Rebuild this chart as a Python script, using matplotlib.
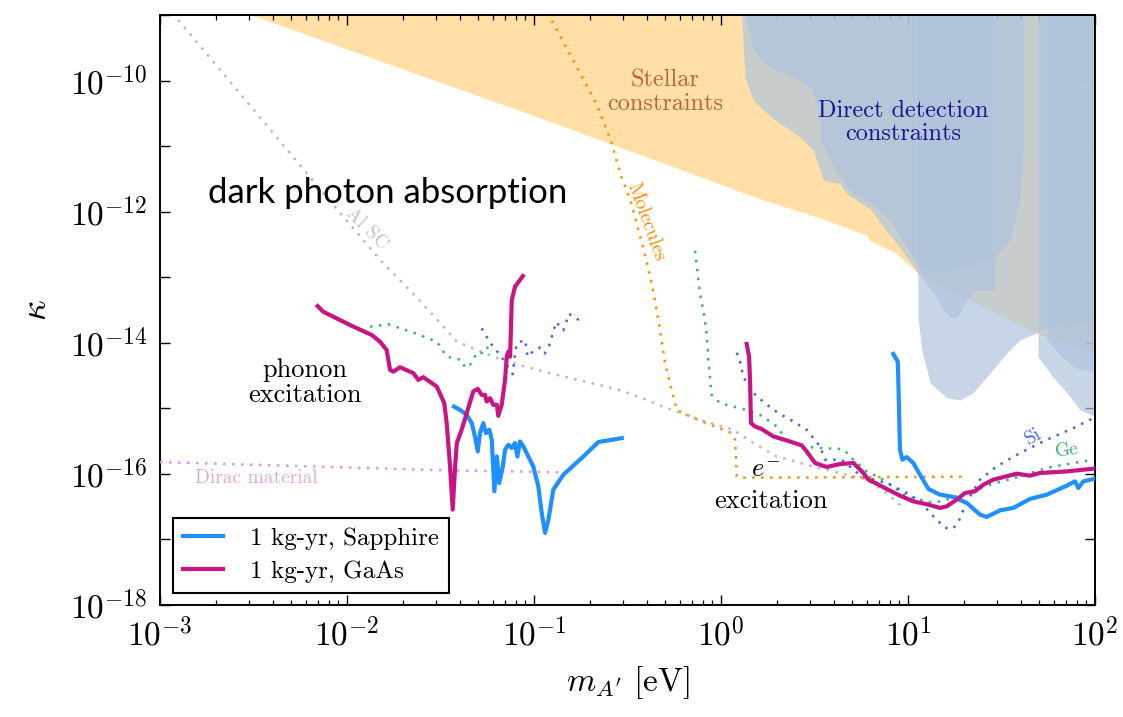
import numpy as np
import matplotlib
matplotlib.use("Agg")
import matplotlib.pyplot as plt
from matplotlib.ticker import NullLocator, FixedLocator

plt.rcParams["mathtext.fontset"] = "cm"
plt.rcParams["axes.formatter.use_mathtext"] = True

# ---------------- reach curves: log10(m_A' / eV) and log10(kappa) ----------------
sapphire_phonon_logm = np.array([-1.428, -1.396, -1.360, -1.333, -1.316, -1.301, -1.289, -1.271,
                                 -1.257, -1.239, -1.226, -1.212, -1.199, -1.186, -1.167, -1.155,
                                 -1.137, -1.119, -1.102, -1.089, -1.075, -1.057, -1.004, -0.977,
                                 -0.959, -0.941, -0.923, -0.897, -0.843, -0.736, -0.656, -0.531])
sapphire_phonon_logk = np.array([-14.973, -15.023, -15.099, -15.225, -15.429, -15.658, -15.378, -15.225,
                                 -15.378, -15.327, -15.479, -16.266, -15.734, -16.139, -15.886, -15.632,
                                 -15.556, -15.606, -15.530, -15.734, -15.505, -15.581, -15.886, -16.190,
                                 -16.595, -16.900, -16.697, -16.240, -16.012, -15.734, -15.514, -15.454])

sapphire_electron_logm = np.array([0.921, 0.945, 0.948, 0.957, 0.970, 0.993, 1.028, 1.064, 1.109, 1.171,
                                   1.242, 1.314, 1.385, 1.421, 1.492, 1.563, 1.652, 1.742, 1.849, 1.893,
                                   1.911, 1.937, 1.991])
sapphire_electron_logk = np.array([-14.170, -14.288, -14.566, -15.632, -15.784, -15.743, -15.834, -16.012,
                                   -16.230, -16.317, -16.352, -16.443, -16.621, -16.656, -16.556, -16.519,
                                   -16.382, -16.317, -16.180, -16.114, -16.215, -16.114, -16.078])

gaas_phonon_logm = np.array([-2.157, -2.127, -1.984, -1.868, -1.824, -1.788, -1.770, -1.752, -1.717,
                             -1.645, -1.619, -1.592, -1.520, -1.480, -1.467, -1.449, -1.435, -1.422,
                             -1.413, -1.387, -1.360, -1.325, -1.301, -1.280, -1.262, -1.253, -1.235,
                             -1.218, -1.199, -1.191, -1.173, -1.155, -1.146, -1.137, -1.128, -1.119,
                             -1.102, -1.060])
gaas_phonon_logk = np.array([-13.440, -13.527, -13.729, -13.881, -13.983, -14.110, -14.414, -14.440,
                             -14.373, -14.464, -14.566, -14.525, -14.668, -14.921, -15.225, -15.886,
                             -16.545, -15.886, -15.530, -15.327, -15.073, -14.744, -14.703, -14.795,
                             -14.795, -14.896, -14.845, -14.947, -14.947, -15.114, -14.947, -14.566,
                             -14.212, -14.135, -14.212, -13.349, -13.146, -12.983])

gaas_electron_logm = np.array([0.137, 0.150, 0.155, 0.160, 0.182, 0.218, 0.280, 0.351, 0.432, 0.458,
                               0.503, 0.565, 0.636, 0.708, 0.761, 0.788, 0.814, 0.886, 0.957, 1.028,
                               1.109, 1.171, 1.207, 1.260, 1.305, 1.358, 1.403, 1.456, 1.581, 1.652,
                               1.706, 1.849, 1.991])
gaas_electron_logk = np.array([-14.018, -14.212, -14.566, -15.225, -15.277, -15.317, -15.429, -15.490,
                               -15.566, -15.658, -15.834, -15.895, -15.849, -15.834, -15.986, -16.088,
                               -16.123, -16.230, -16.332, -16.419, -16.469, -16.519, -16.495, -16.393,
                               -16.291, -16.266, -16.164, -16.088, -15.997, -16.027, -15.986, -15.962,
                               -15.921])

# ---------------- other projections (dotted) ----------------
al_sc_logm = np.array([-2.902, -2.064, -1.806, -1.717, -1.556, -1.413, -1.306, -1.182, -1.048, -0.914,
                       -0.781, -0.558, -0.433, -0.290, -0.112, 0.066, 0.173, 0.298, 0.458, 0.601,
                       0.779, 0.886, 0.975])
al_sc_logk = np.array([-9.076, -11.928, -12.790, -13.044, -13.527, -13.983, -14.110, -14.251, -14.364,
                       -14.464, -14.556, -14.708, -14.830, -14.997, -15.175, -15.327, -15.530, -15.734,
                       -15.860, -15.962, -16.088, -16.291, -16.519])

dirac_logm = np.array([-3.0, -1.449, -0.825])
dirac_logk = np.array([-15.82, -15.947, -15.977])

molecules_logm = np.array([-0.905, -0.666, -0.590, -0.533, -0.484, -0.437, -0.399, -0.360, -0.326,
                           -0.299, -0.264, -0.237, -0.183, -0.112, -0.032, 0.057, 0.075, 0.080,
                           0.084, 0.102, 0.599, 1.296])
molecules_logk = np.array([-9.087, -10.355, -10.913, -11.472, -11.826, -12.333, -12.740, -13.247,
                           -13.805, -14.312, -14.718, -15.023, -15.099, -15.190, -15.277, -15.378,
                           -15.479, -15.734, -16.038, -16.058, -16.053, -16.043])

ge_phonon_logm = np.array([-1.877, -1.779, -1.645, -1.520, -1.467, -1.387, -1.369, -1.342, -1.303,
                           -1.266, -1.235])
ge_phonon_logk = np.array([-13.755, -13.718, -13.846, -13.983, -14.212, -14.262, -14.379, -14.338,
                           -14.145, -14.161, -13.998])

ge_electron_logm = np.array([-0.139, -0.112, -0.095, -0.077, -0.068, -0.050, -0.005, 0.119, 0.209,
                             0.298, 0.351, 0.440, 0.529, 0.654, 0.708, 0.779, 0.868, 0.993, 1.135,
                             1.207, 1.314, 1.439, 1.599, 1.742, 1.884, 1.991])
ge_electron_logk = np.array([-12.598, -13.262, -13.501, -13.855, -14.262, -14.795, -14.921, -15.012,
                             -15.099, -15.277, -15.479, -15.581, -15.606, -15.621, -15.784, -15.962,
                             -16.088, -16.342, -16.443, -16.393, -16.291, -16.164, -16.038, -15.910,
                             -15.834, -15.784])

si_phonon_logm = np.array([-1.280, -1.234, -1.176, -1.114, -1.100, -1.089, -1.048, -1.034, -1.004,
                           -0.968, -0.943, -0.920, -0.895, -0.882, -0.843, -0.813, -0.772, -0.740])
si_phonon_logk = np.array([-13.779, -14.003, -14.205, -14.479, -14.120, -14.003, -13.957, -14.212,
                           -14.125, -14.075, -14.166, -14.049, -13.816, -13.683, -13.810, -13.557,
                           -13.638, -13.658])

si_electron_logm = np.array([0.084, 0.102, 0.119, 0.164, 0.235, 0.306, 0.378, 0.458, 0.494, 0.529,
                             0.556, 0.645, 0.708, 0.752, 0.886, 0.993, 1.064, 1.135, 1.198, 1.239,
                             1.269, 1.296, 1.332, 1.385, 1.474, 1.599, 1.742, 1.884, 1.991])
si_electron_logk = np.array([-14.151, -14.288, -14.516, -14.744, -14.921, -15.073, -15.186, -15.327,
                             -15.454, -15.581, -15.784, -15.784, -15.936, -16.038, -16.139, -16.291,
                             -16.419, -16.647, -16.824, -16.839, -16.738, -16.545, -16.342, -16.088,
                             -15.886, -15.682, -15.479, -15.301, -15.149])

# ---------------- excluded regions (lower edges; filled up to the top) ----------------
stellar_logm = np.array([-2.510, -0.914, 0.230, 0.519, 0.781, 0.791, 0.936, 1.053, 1.332, 1.684, 2.0])
stellar_logk = np.array([-9.0, -10.624, -11.826, -12.085, -12.359, -12.435, -12.633, -12.938,
                         -13.349, -13.851, -14.140])

dd_a_logm = np.array([0.111, 0.128, 0.173, 0.280, 0.422, 0.494, 0.547, 0.636, 0.672, 0.806, 0.868,
                      0.940, 1.055, 1.144, 1.198, 1.235, 1.267, 1.321, 1.358, 1.465])
dd_a_logk = np.array([-9.01, -9.95, -10.304, -10.583, -10.863, -11.065, -11.522, -11.572, -11.725,
                      -11.979, -12.233, -12.486, -12.942, -13.272, -13.531, -13.623, -13.592, -13.318,
                      -13.196, -13.196])

dd_b_logm = np.array([0.128, 0.173, 0.262, 0.369, 0.422, 0.485, 0.520, 0.538, 0.583, 0.636, 0.708,
                      0.797, 0.904, 0.993, 1.055, 1.171, 1.332, 1.465, 1.545, 1.599, 1.615])
dd_b_logk = np.array([-9.0, -9.543, -9.798, -9.924, -10.0, -10.126, -10.457, -10.913, -11.218,
                      -11.472, -11.725, -11.852, -12.131, -12.537, -12.842, -12.892, -12.816,
                      -12.694, -12.435, -11.826, -11.065])

dd_c_logm = np.array([1.053, 1.073, 1.118, 1.207, 1.278, 1.348, 1.439, 1.528, 1.599, 1.688, 1.706, 2.0])
dd_c_logk = np.array([-13.603, -14.110, -14.612, -14.840, -14.871, -14.764, -14.460, -14.155,
                      -13.957, -13.851, -13.805, -13.653])

dd_d_logm = np.array([1.695, 1.775, 1.850, 1.920, 2.0])
dd_d_logk = np.array([-14.216, -14.521, -14.764, -15.023, -15.129])

dd_e_logm = np.array([1.743, 1.813, 1.893, 2.0])
dd_e_logk = np.array([-13.957, -14.186, -14.384, -14.444])

xtick_exponents = [-3, -2, -1, 0, 1, 2]
ytick_exponents = list(range(-18, -8))

# ---------------- figure ----------------
fig = plt.figure(figsize=(11.23, 7.17), dpi=100)
ax = fig.add_axes([0.1425, 0.1562, 0.8326, 0.8229])
ax.set_xscale("log")
ax.set_yscale("log")
ax.set_xlim(1e-3, 1e2)
ax.set_ylim(1e-18, 1e-9)

TOP = 1e-7
ax.fill_between(10 ** stellar_logm, 10 ** stellar_logk, TOP, color="orange", alpha=0.35,
                lw=0, zorder=1)
for lm, lk in [(dd_a_logm, dd_a_logk), (dd_b_logm, dd_b_logk), (dd_c_logm, dd_c_logk),
               (dd_d_logm, dd_d_logk), (dd_e_logm, dd_e_logk)]:
    ax.fill_between(10 ** lm, 10 ** lk, TOP, color="lightsteelblue", alpha=0.7, lw=0, zorder=2)

dot = (0, (1, 2.6))
DLW = 1.8
ax.plot(10 ** al_sc_logm, 10 ** al_sc_logk, color="#b8b8b8", lw=DLW, ls=dot, zorder=3)
ax.plot(10 ** dirac_logm, 10 ** dirac_logk, color="#e094e0", lw=DLW, ls=dot, zorder=3)
ax.plot(10 ** molecules_logm, 10 ** molecules_logk, color="darkorange", lw=DLW, ls=dot, zorder=3)
for lm, lk in [(ge_phonon_logm, ge_phonon_logk), (ge_electron_logm, ge_electron_logk)]:
    ax.plot(10 ** lm, 10 ** lk, color="mediumseagreen", lw=DLW, ls=dot, zorder=3)
for lm, lk in [(si_phonon_logm, si_phonon_logk), (si_electron_logm, si_electron_logk)]:
    ax.plot(10 ** lm, 10 ** lk, color="royalblue", lw=DLW, ls=dot, zorder=3)

sapphire_color = "#1e90ff"
gaas_color = "#c71585"
LW = 3.0
ax.plot(10 ** sapphire_phonon_logm, 10 ** sapphire_phonon_logk, color=sapphire_color, lw=LW,
        zorder=4, label="1 kg-yr, Sapphire", solid_joinstyle="round")
ax.plot(10 ** sapphire_electron_logm, 10 ** sapphire_electron_logk, color=sapphire_color, lw=LW,
        zorder=4, solid_joinstyle="round")
ax.plot(10 ** gaas_phonon_logm, 10 ** gaas_phonon_logk, color=gaas_color, lw=LW, zorder=4,
        label="1 kg-yr, GaAs", solid_joinstyle="round")
ax.plot(10 ** gaas_electron_logm, 10 ** gaas_electron_logk, color=gaas_color, lw=LW, zorder=4,
        solid_joinstyle="round")

# ---------------- annotations ----------------
cm = "cmr10"
ax.text(10 ** -2.743, 10 ** -11.72, "dark photon absorption", fontsize=25, family="Lato",
        ha="left", va="center", zorder=6)
ax.text(10 ** -0.299, 10 ** -10.18, "Stellar\nconstraints", fontsize=17.5, family=cm,
        color="#c0623a", ha="center", va="center", multialignment="center", zorder=6,
        linespacing=1.05)
ax.text(10 ** 0.973, 10 ** -10.64, "Direct detection\nconstraints", fontsize=17.5, family=cm,
        color="#15158c", ha="center", va="center", multialignment="center", zorder=6,
        linespacing=1.1)
ax.text(10 ** -2.225, 10 ** -14.61, "phonon\nexcitation", fontsize=19, family=cm,
        ha="center", va="center", multialignment="center", zorder=6, linespacing=1.1)
ax.text(10 ** 0.235, 10 ** -15.936, r"$e^{-}$", fontsize=19, ha="center", va="center", zorder=6)
ax.text(10 ** 0.267, 10 ** -16.423, "excitation", fontsize=19, family=cm, ha="center",
        va="center", zorder=6)
ax.text(10 ** -2.813, 10 ** -16.058, "Dirac material", fontsize=14, family=cm, color="#e3a6e3",
        ha="left", va="center", zorder=6)
ax.text(10 ** -0.401, 10 ** -12.161, "Molecules", fontsize=14, family=cm, color="darkorange",
        rotation=-70, ha="center", va="center", rotation_mode="anchor", zorder=6)
ax.text(10 ** -1.893, 10 ** -12.253, "Al SC", fontsize=14, family=cm, color="#c4c4c4",
        rotation=-45, ha="center", va="center", rotation_mode="anchor", zorder=6)
ax.text(10 ** 1.668, 10 ** -15.434, "Si", fontsize=14, family=cm, color="royalblue",
        rotation=30, ha="center", va="center", rotation_mode="anchor", zorder=6)
ax.text(10 ** 1.850, 10 ** -15.647, "Ge", fontsize=14, family=cm, color="mediumseagreen",
        rotation=8, ha="center", va="center", rotation_mode="anchor", zorder=6)

# ---------------- axes styling ----------------
ax.set_xticks([10.0 ** e for e in xtick_exponents])
ax.set_xticklabels([rf"$10^{{{e}}}$" for e in xtick_exponents])
minor_x = [s * 10.0 ** e for e in xtick_exponents[:-1] for s in range(2, 10)]
ax.xaxis.set_minor_locator(FixedLocator(minor_x))
ax.set_yticks([10.0 ** e for e in ytick_exponents])
ax.set_yticklabels([rf"$10^{{{e}}}$" if e % 2 == 0 else "" for e in ytick_exponents])
ax.yaxis.set_minor_locator(NullLocator())
ax.tick_params(which="both", direction="in", top=True, right=True, labelsize=24)
ax.tick_params(which="major", length=7, width=1.0, pad=9)
ax.tick_params(which="minor", length=3.8, width=0.9)
for s in ax.spines.values():
    s.set_linewidth(1.4)

ax.set_xlabel(r"$m_{A^\prime}\ [\mathrm{eV}]$", fontsize=24, labelpad=8)
ax.set_ylabel(r"$\kappa$", fontsize=26, labelpad=12)

leg = ax.legend(loc="lower left", fancybox=False, framealpha=1, edgecolor="black",
                handlelength=1.6, handletextpad=1.1, borderpad=0.4, labelspacing=0.4,
                prop={"family": cm, "size": 18})
leg.get_frame().set_linewidth(1.5)
leg.set_zorder(7)

fig.savefig("out.png", dpi=100)
